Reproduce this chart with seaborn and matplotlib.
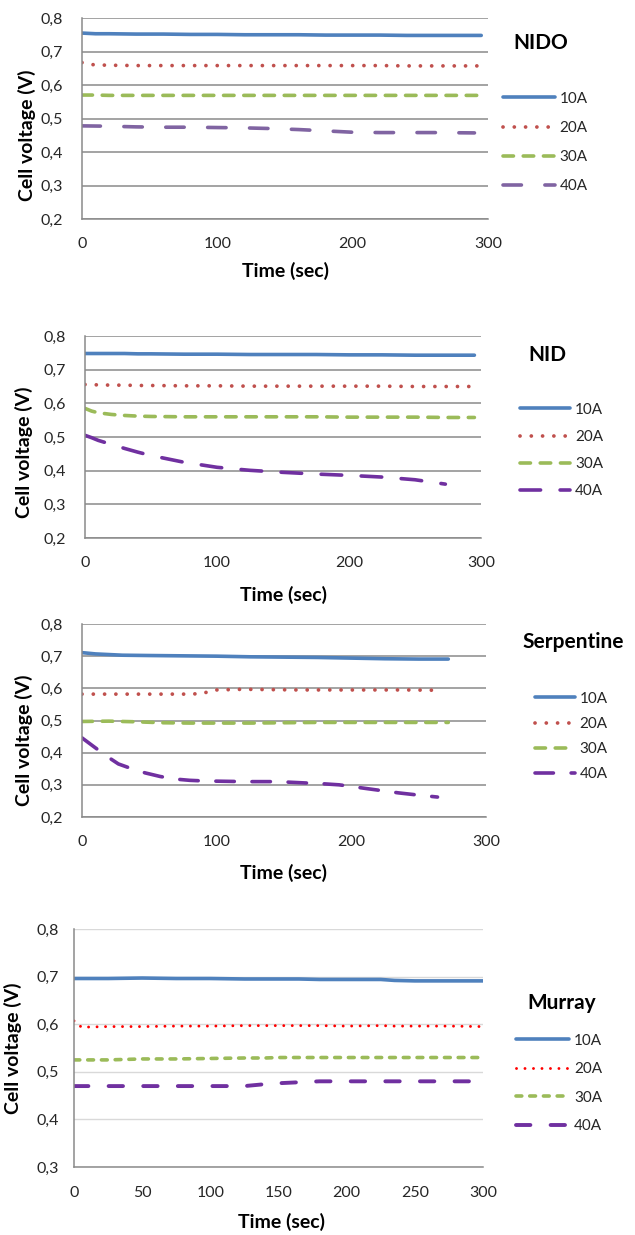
import pandas as pd
import matplotlib.pyplot as plt
import matplotlib.ticker as mticker
import seaborn as sns

CURRENTS = ['10A', '20A', '30A', '40A']

# --- NIDO ---
nido_t = [0, 5, 10, 20, 40, 60, 80, 100, 120, 140, 160, 180, 200, 220, 240, 260, 280, 295]
nido_10A = [0.755, 0.754, 0.753, 0.753, 0.752, 0.752, 0.751, 0.751, 0.750, 0.750,
            0.750, 0.749, 0.749, 0.749, 0.748, 0.748, 0.748, 0.748]
nido_20A = [0.667, 0.662, 0.660, 0.659, 0.658, 0.658, 0.658, 0.658, 0.658, 0.658,
            0.658, 0.658, 0.658, 0.658, 0.657, 0.657, 0.657, 0.657]
nido_30A = [0.570, 0.570, 0.570, 0.569, 0.569, 0.569, 0.569, 0.569, 0.569, 0.569,
            0.569, 0.569, 0.569, 0.569, 0.569, 0.569, 0.569, 0.569]
nido_t_40 = [0, 20, 40, 60, 80, 100, 120, 140, 160, 180, 200, 220, 240, 260, 290]
nido_40A = [0.478, 0.477, 0.475, 0.474, 0.474, 0.473, 0.472, 0.470, 0.467, 0.463,
            0.459, 0.458, 0.458, 0.458, 0.457]

# --- NID ---
nid_t = [0, 5, 10, 20, 30, 40, 50, 75, 100, 125, 150, 175, 200, 225, 250, 275, 295]
nid_10A = [0.748, 0.748, 0.748, 0.748, 0.748, 0.747, 0.747, 0.746, 0.746, 0.745,
           0.745, 0.745, 0.744, 0.744, 0.743, 0.743, 0.743]
nid_20A = [0.656, 0.655, 0.655, 0.654, 0.654, 0.653, 0.653, 0.652, 0.652, 0.651,
           0.651, 0.651, 0.651, 0.651, 0.650, 0.650, 0.650]
nid_30A = [0.585, 0.577, 0.572, 0.567, 0.564, 0.562, 0.561, 0.560, 0.560, 0.560,
           0.560, 0.560, 0.559, 0.559, 0.559, 0.558, 0.558]
nid_t_40 = [0, 5, 10, 20, 30, 40, 50, 75, 100, 125, 150, 175, 200, 225, 250, 273]
nid_40A = [0.505, 0.498, 0.490, 0.478, 0.466, 0.455, 0.445, 0.425, 0.410, 0.401,
           0.395, 0.390, 0.386, 0.381, 0.373, 0.360]

# --- Serpentine ---
serp_t_10 = [0, 5, 10, 20, 30, 50, 75, 100, 125, 150, 175, 200, 225, 250, 272]
serp_10A = [0.711, 0.709, 0.707, 0.705, 0.703, 0.702, 0.701, 0.700, 0.698, 0.697,
            0.696, 0.694, 0.692, 0.691, 0.691]
serp_t_20 = [0, 20, 40, 60, 80, 90, 95, 100, 120, 140, 160, 180, 200, 220, 240, 266]
serp_20A = [0.582, 0.582, 0.582, 0.582, 0.582, 0.584, 0.592, 0.595, 0.597, 0.596,
            0.595, 0.595, 0.595, 0.595, 0.595, 0.594]
serp_t_30 = [0, 20, 40, 60, 80, 100, 125, 150, 175, 200, 225, 250, 272]
serp_30A = [0.497, 0.498, 0.496, 0.493, 0.492, 0.492, 0.492, 0.493, 0.494, 0.494,
            0.494, 0.494, 0.494]
serp_t_40 = [0, 9, 18, 27, 37, 47, 58, 69, 80, 91, 121, 145, 165, 180, 191, 212, 235, 250, 264]
serp_40A = [0.446, 0.418, 0.390, 0.365, 0.350, 0.337, 0.326, 0.318, 0.314, 0.312,
            0.310, 0.310, 0.306, 0.303, 0.300, 0.288, 0.275, 0.268, 0.262]

# --- Murray ---
mur_t = [0, 3, 6, 10, 25, 50, 75, 100, 125, 140, 150, 165, 180, 200, 225, 235, 250, 275, 300]
mur_10A = [0.696, 0.696, 0.696, 0.696, 0.696, 0.697, 0.696, 0.696, 0.695, 0.695,
           0.695, 0.695, 0.694, 0.694, 0.694, 0.692, 0.691, 0.691, 0.691]
mur_20A = [0.607, 0.599, 0.593, 0.594, 0.595, 0.595, 0.596, 0.596, 0.597, 0.597,
           0.597, 0.597, 0.597, 0.596, 0.597, 0.596, 0.596, 0.596, 0.595]
mur_30A = [0.525, 0.525, 0.525, 0.525, 0.525, 0.527, 0.527, 0.528, 0.529, 0.529,
           0.530, 0.530, 0.530, 0.530, 0.530, 0.530, 0.530, 0.530, 0.530]
mur_40A = [0.470, 0.470, 0.470, 0.470, 0.470, 0.470, 0.470, 0.470, 0.470, 0.474,
           0.476, 0.478, 0.480, 0.480, 0.480, 0.480, 0.480, 0.480, 0.480]

W, H = 635, 1235
TEXT = '#262626'
GRID_DARK = '#8a8a8a'
GRID_LIGHT = '#d9d9d9'


def tabla(series):
    partes = [pd.DataFrame({'time': t, 'voltage': v, 'current': c}) for c, t, v in series]
    return pd.concat(partes, ignore_index=True)


def coma(v, pos):
    return f'{v:.1f}'.replace('.', ',')


def panel(fig, p):
    l, t, r, b = p['rect']
    ax = fig.add_axes([l / W, 1 - b / H, (r - l) / W, (b - t) / H])
    sns.lineplot(data=p['df'], x='time', y='voltage', hue='current', style='current',
                 hue_order=CURRENTS, style_order=CURRENTS, palette=p['colors'],
                 dashes=p['dashes'], linewidth=2.6, estimator=None, sort=False,
                 dash_capstyle='round', solid_capstyle='round', legend=False, ax=ax)
    lineas = ax.lines[:4]
    for ln, lw in zip(lineas, p['lws']):
        ln.set_linewidth(lw)

    ax.set_xlim(0, 300)
    ax.set_ylim(*p['ylim'])
    ax.xaxis.set_major_locator(mticker.MultipleLocator(p['xstep']))
    ax.yaxis.set_major_locator(mticker.MultipleLocator(0.1))
    ax.yaxis.set_major_formatter(mticker.FuncFormatter(coma))

    light = p['light']
    ax.grid(axis='y', color=GRID_LIGHT if light else GRID_DARK, lw=1.0 if light else 1.1)
    ax.grid(axis='x', visible=False)
    ax.set_axisbelow(True)
    for s in ['top', 'right']:
        ax.spines[s].set_visible(False)
    for s in ['left', 'bottom']:
        ax.spines[s].set_color(GRID_DARK)
        ax.spines[s].set_linewidth(1.1)
    if light:
        ax.tick_params(axis='both', length=3, width=1, color=GRID_DARK, direction='out')
        ax.tick_params(axis='x', pad=10.5)
        ax.tick_params(axis='y', pad=8)
    else:
        ax.tick_params(axis='both', length=0)
        ax.tick_params(axis='x', pad=13)
        ax.tick_params(axis='y', pad=13.5)
    ax.tick_params(labelsize=11.5, labelcolor=TEXT)

    ax.set_xlabel('Time (sec)', fontsize=14, fontweight='bold', color='black', va='center')
    ax.set_ylabel('Cell voltage (V)', fontsize=14, fontweight='bold', color='black', va='center')
    ax.xaxis.set_label_coords(p['xlab'][0] / W, 1 - p['xlab'][1] / H, transform=fig.transFigure)
    ax.yaxis.set_label_coords(p['ylab'][0] / W, 1 - p['ylab'][1] / H, transform=fig.transFigure)

    fig.text(p['title_xy'][0] / W, 1 - p['title_xy'][1] / H, p['title'],
             fontsize=15, fontweight='bold', color='black', ha='left', va='center')

    lx, ly = p['leg_xy']
    ax.legend(lineas, CURRENTS, loc='center left', bbox_to_anchor=(lx / W, 1 - ly / H),
              bbox_transform=fig.transFigure, frameon=False, fontsize=11,
              labelcolor=TEXT, borderpad=0, borderaxespad=0, handletextpad=0.3,
              handlelength=p['hlen'], labelspacing=p['lspace'])
    return ax


sns.set_theme(style='white')
plt.rcParams['font.family'] = ['Lato', 'DejaVu Sans']

BLUE, RED, GREEN, PURPLE, VIOLET, BRIGHT_RED = (
    '#4F81BD', '#C0504D', '#9BBB59', '#8064A2', '#7030A0', '#FF0000')

paneles = [
    dict(title='NIDO',
         df=tabla([('10A', nido_t, nido_10A), ('20A', nido_t, nido_20A),
                   ('30A', nido_t, nido_30A), ('40A', nido_t_40, nido_40A)]),
         colors=dict(zip(CURRENTS, [BLUE, RED, GREEN, PURPLE])),
         dashes={'10A': '', '20A': (0.01, 3), '30A': (2.9, 2.7), '40A': (5.1, 6.5)},
         lws=[2.6, 2.7, 2.6, 2.6],
         rect=(82, 18, 488, 219), ylim=(0.2, 0.8), xstep=100, light=False,
         xlab=(285, 271), ylab=(27, 135), title_xy=(513, 43),
         leg_xy=(503, 142.5), hlen=3.4, lspace=1.0),
    dict(title='NID',
         df=tabla([('10A', nid_t, nid_10A), ('20A', nid_t, nid_20A),
                   ('30A', nid_t, nid_30A), ('40A', nid_t_40, nid_40A)]),
         colors=dict(zip(CURRENTS, [BLUE, RED, GREEN, VIOLET])),
         dashes={'10A': '', '20A': (0.01, 3), '30A': (2.9, 2.7), '40A': (5.7, 5.4)},
         lws=[2.6, 2.7, 2.6, 2.6],
         rect=(85, 336, 481, 538), ylim=(0.2, 0.8), xstep=100, light=False,
         xlab=(283, 595), ylab=(24, 452), title_xy=(528, 355),
         leg_xy=(520, 450.5), hlen=3.3, lspace=0.87),
    dict(title='Serpentine',
         df=tabla([('10A', serp_t_10, serp_10A), ('20A', serp_t_20, serp_20A),
                   ('30A', serp_t_30, serp_30A), ('40A', serp_t_40, serp_40A)]),
         colors=dict(zip(CURRENTS, [BLUE, RED, GREEN, VIOLET])),
         dashes={'10A': '', '20A': (0.01, 3), '30A': (2.9, 2.7), '40A': (5.1, 4.9)},
         lws=[2.6, 2.7, 2.6, 2.6],
         rect=(82, 624, 486, 817), ylim=(0.2, 0.8), xstep=100, light=False,
         xlab=(284, 873), ylab=(24, 740), title_xy=(522, 642),
         leg_xy=(535, 736.5), hlen=2.6, lspace=0.73),
    dict(title='Murray',
         df=tabla([('10A', mur_t, mur_10A), ('20A', mur_t, mur_20A),
                   ('30A', mur_t, mur_30A), ('40A', mur_t, mur_40A)]),
         colors=dict(zip(CURRENTS, [BLUE, BRIGHT_RED, GREEN, VIOLET])),
         dashes={'10A': '', '20A': (0.01, 2.9), '30A': (1.6, 2.2), '40A': (3.7, 5.2)},
         lws=[2.6, 2.1, 2.6, 2.8],
         rect=(74, 929, 483, 1167), ylim=(0.3, 0.8), xstep=50, light=True,
         xlab=(282, 1222), ylab=(13, 1048), title_xy=(527, 1003),
         leg_xy=(516, 1083.5), hlen=3.5, lspace=0.95),
]

fig = plt.figure(figsize=(W / 100, H / 100), dpi=100)
for p in paneles:
    panel(fig, p)

fig.savefig('out.png', dpi=100, facecolor='white')
